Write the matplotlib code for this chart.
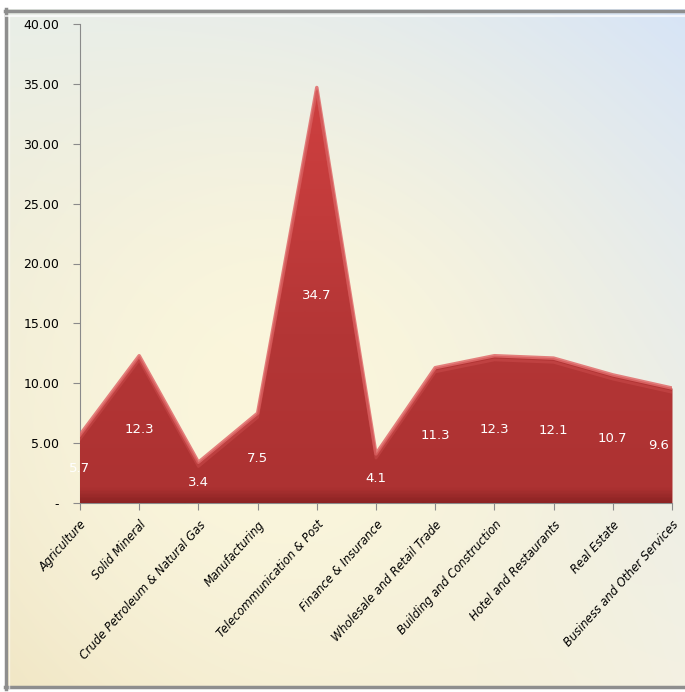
import matplotlib
matplotlib.use("Agg")
import matplotlib.pyplot as plt
import numpy as np
from matplotlib.colors import LinearSegmentedColormap, to_rgb
from matplotlib.lines import Line2D

categories = ["Agriculture", "Solid Mineral", "Crude Petroleum & Natural Gas",
              "Manufacturing", "Telecommunication & Post", "Finance & Insurance",
              "Wholesale and Retail Trade", "Building and Construction",
              "Hotel and Restaurants", "Real Estate", "Business and Other Services"]
values = [5.7, 12.3, 3.4, 7.5, 34.7, 4.1, 11.3, 12.3, 12.1, 10.7, 9.6]
yticks = [0, 5, 10, 15, 20, 25, 30, 35, 40]

plt.rcParams['font.family'] = ["DejaVu Sans"]

W, H = 685, 692
fig = plt.figure(figsize=(W/100, H/100), dpi=100, facecolor='white')

# background panel with soft gradient
L, T, R, B = 5, 9, 685, 689
bg = fig.add_axes([L/W, 1-B/H, (R-L)/W, (B-T)/H], zorder=-10)
ny, nx = 300, 300
vv, uu = np.mgrid[0:1:ny*1j, 0:1:nx*1j]
TL, TR = np.array(to_rgb('#e4ecec')), np.array(to_rgb('#d2e2fa'))
BL, BR = np.array(to_rgb('#ecdeb8')), np.array(to_rgb('#f2f0e4'))
CEN = np.array(to_rgb('#fbf6dc'))
u = uu[..., None]; v = vv[..., None]
corner = (TL*(1-u)*(1-v) + TR*u*(1-v) + BL*(1-u)*v + BR*u*v)
r2 = ((uu-0.40)/0.6)**2 + ((vv-0.58)/0.6)**2
w = np.exp(-r2*1.1)[..., None]
img = np.clip(corner*(1-w) + CEN*w, 0, 1)
bg.imshow(img, extent=[0, 1, 0, 1], origin='upper', aspect='auto')
bg.set_xlim(0, 1); bg.set_ylim(0, 1)
bg.set_axis_off()
for xs, ys in [([0.002, 0.002], [0, 1]), ([0, 1], [0.997, 0.997]), ([0, 1], [0.003, 0.003])]:
    bg.add_line(Line2D(xs, ys, color='#8e8e8e', lw=2.5, transform=bg.transAxes, clip_on=False))
bg.add_line(Line2D([0.006, 0.006], [0, 0.99], color='#ffffff', lw=1, alpha=0.6, transform=bg.transAxes))
bg.add_line(Line2D([0, 1], [0.990, 0.990], color='#ffffff', lw=1.5, alpha=0.7, transform=bg.transAxes))

x0, x1 = 80/W, 672/W
yb, yt = 503/H, 24/H
ax = fig.add_axes([x0, 1-yb, x1-x0, yb-yt])
ax.set_facecolor('none')
x = np.arange(len(categories))
n = len(categories) - 1

poly = ax.fill_between(x, values, 0, color='#b03535', lw=0, zorder=2)
grad = np.linspace(0, 1, 400)[:, None]
cmap = LinearSegmentedColormap.from_list('r', [(0, '#d44242'), (0.4, '#c23b3b'),
                                               (0.65, '#b43636'), (0.97, '#ad3232'),
                                               (1.0, '#8e2424')])
im = ax.imshow(grad, extent=[0, n, 0, 40], origin='upper', cmap=cmap, aspect='auto', zorder=3)
im.set_clip_path(poly.get_paths()[0], transform=ax.transData)
ax.set_xlim(0, n)
ax.set_ylim(0, 40)
ax.plot(x, values, color='#e06a6a', lw=2.5, zorder=4, solid_joinstyle='round', alpha=0.85)
ax.plot(x, np.array(values) - 0.35, color='#cf5050', lw=2, zorder=4, alpha=0.45)

for i, (xi, v) in enumerate(zip(x, values)):
    ha = 'center'
    xo = xi
    if i == n:
        xo = xi - 0.05
        ha = 'right'
    ax.text(xo, v/2, f"{v:.1f}", color='white', ha=ha, va='center',
            fontsize=9.5, zorder=5)

ax.set_yticks(yticks)
ax.set_yticklabels(["-" if v == 0 else f"{v:.2f}" for v in yticks], fontsize=9)
ax.set_xticks(x)
ax.set_xticklabels(categories, rotation=48, ha='right', rotation_mode='anchor',
                   fontsize=8.3, style='italic')
for sp in ['top', 'right']:
    ax.spines[sp].set_visible(False)
ax.spines['left'].set_color('#8a8a8a')
ax.spines['bottom'].set_color('#8a8a8a')
ax.tick_params(axis='y', length=5, color='#8a8a8a', pad=10)
ax.tick_params(axis='x', length=5, color='#8a8a8a', pad=6)

fig.savefig("out.png", dpi=100, facecolor='white')
